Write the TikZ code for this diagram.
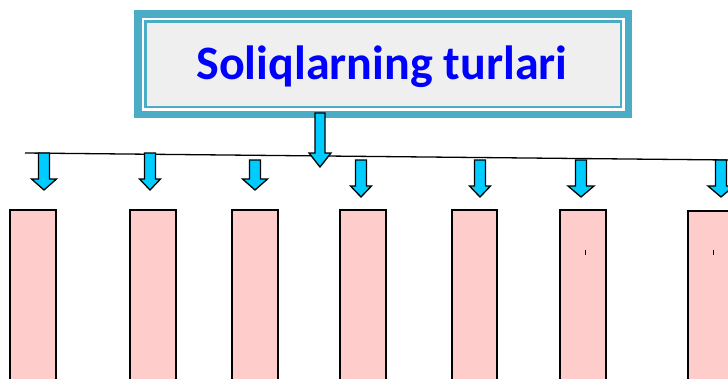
\documentclass[tikz,border=0pt]{standalone}
\usepackage{fontspec}
\setmainfont{Carlito}
\definecolor{teal1}{HTML}{4BACC6}
\definecolor{titlefill}{HTML}{EFEFEF}
\definecolor{arrowcyan}{HTML}{00CCFF}
\definecolor{boxpink}{HTML}{FFCCCC}
\definecolor{titleblue}{HTML}{0000FF}
\tikzset{
  blockarr/.style={fill=arrowcyan, draw=black, line width=1.3pt, line join=miter},
  pinkbox/.style={fill=boxpink, draw=black, line width=1.4pt},
  busline/.style={draw=black, line width=1.3pt},
}
% \barrowat{x}{ytop}{ytip}{shaft half}{head half}{head length}
\newcommand{\barrowat}[6]{%
  \draw[blockarr] (#1-#4,#2) -- (#1+#4,#2) -- (#1+#4,#3-#6) -- (#1+#5,#3-#6)
    -- (#1,#3) -- (#1-#5,#3-#6) -- (#1-#4,#3-#6) -- cycle;}
\begin{document}
\begin{tikzpicture}[x=1pt,y=-1pt]
\useasboundingbox (0,0) rectangle (728,378);
% title box
\fill[teal1] (134,10) rectangle (632,118);
\fill[white] (141.5,17.5) rectangle (624.5,110.5);
\draw[teal1, line width=2.4pt, fill=titlefill] (145.3,21.3) rectangle (620.7,106.7);
\node[font=\bfseries\fontsize{48}{52}\selectfont, text=titleblue, anchor=base] (title) at (382,79) {Soliqlarning turlari};
% bus line
\coordinate (busL) at (25,153);
\coordinate (busR) at (728,160);
\draw[busline] (busL) -- (busR);
% central arrow
\barrowat{320}{113}{167}{5}{11}{14}
% small arrows
\barrowat{44}{153}{190}{5.5}{12.5}{11}
\barrowat{150}{153}{190}{5.5}{10.5}{11}
\barrowat{255}{160}{190}{5.5}{12.5}{11}
\barrowat{361}{160}{197}{5.5}{10.5}{11}
\barrowat{480}{160}{197}{5.5}{10.5}{11}
\barrowat{581}{160}{197}{5.5}{13}{11}
\barrowat{721}{160}{197}{5.5}{13}{11}
% pink boxes
\draw[pinkbox] (10,210) rectangle (56,385);
\draw[pinkbox] (130,210) rectangle (176,385);
\draw[pinkbox] (232,210) rectangle (278,385);
\draw[pinkbox] (340,210) rectangle (386,385);
\draw[pinkbox] (452,210) rectangle (497,385);
\draw[pinkbox] (560,210) rectangle (606,385);
\draw[pinkbox] (688,211) rectangle (735,385);
% tiny marks
\draw[line width=0.6pt] (585,249.5) -- (585,255);
\draw[line width=0.6pt] (713,249.5) -- (713,255);
\end{tikzpicture}
\end{document}
